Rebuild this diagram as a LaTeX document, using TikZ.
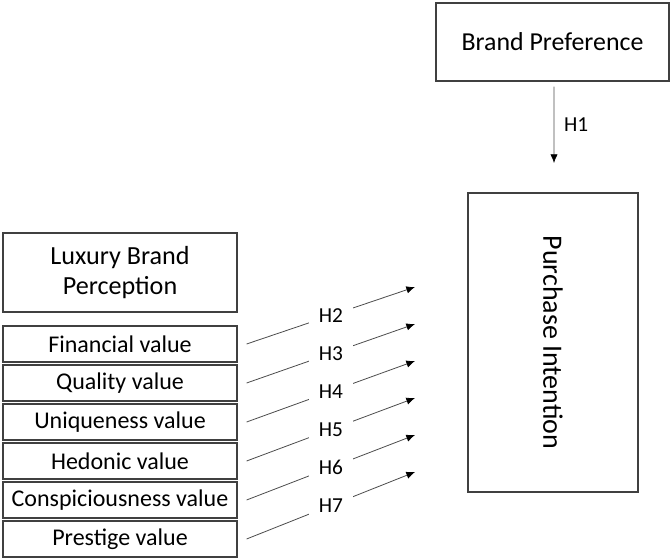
\documentclass[tikz,border=0pt]{standalone}
\usepackage{fontspec}
\setmainfont{Carlito}
\usetikzlibrary{arrows.meta}

\tikzset{
	box/.style={draw=black!75, line width=0.9pt, align=center, inner sep=0pt},
	valbox/.style={box, minimum width=175.5pt, minimum height=27pt, font=\fontsize{18}{20}\selectfont},
	arr/.style={draw=black!70, line width=0.6pt, -{Latex[length=6.5pt,width=5.5pt,color=black]}},
	hlabel/.style={fill=white, inner xsep=7.5pt, inner ysep=3pt, font=\fontsize{16}{18}\selectfont}
}

\begin{document}
\begin{tikzpicture}[x=0.75pt, y=-0.75pt]
	\useasboundingbox (0,0) rectangle (670,559);

	\node[box, minimum width=174.75pt, minimum height=58.5pt, font=\fontsize{19.4}{22}\selectfont] (pref) at (552.5, 42) {Brand Preference};
	\node[box, minimum width=127.5pt, minimum height=224.25pt] (intent) at (553, 342.5) {};
	\node[rotate=-90, font=\fontsize{21}{24}\selectfont] (intenttxt) at (intent.center) {Purchase Intention};

	\coordinate (tip1) at (554, 163);
	\draw[arr] ([xshift=1.1pt, yshift=-3.75pt]pref.south) -- node[right, xshift=4pt, font=\fontsize{16}{18}\selectfont] (h1) {H1} (tip1);

	\node[box, minimum width=175.5pt, minimum height=59.25pt, font=\fontsize{19.6}{23}\selectfont] (lux) at (120, 272.5) {Luxury Brand\\Perception};

	\foreach \name/\txt/\hyp [count=\i] in {fin/Financial value/H2, qual/Quality value/H3, uniq/Uniqueness value/H4, hed/Hedonic value/H5, consp/Conspiciousness value/H6, prest/Prestige value/H7}
	{
		\node[valbox] (\name) at (120, {344+39*(\i-1)}) {\txt};
		\coordinate (tip\hyp) at (415, {287+37*(\i-1)});
		\draw[arr] ([xshift=6.75pt]\name.east) -- node[hlabel] (lbl\hyp) {\hyp} (tip\hyp);
	}

\end{tikzpicture}
\end{document}
